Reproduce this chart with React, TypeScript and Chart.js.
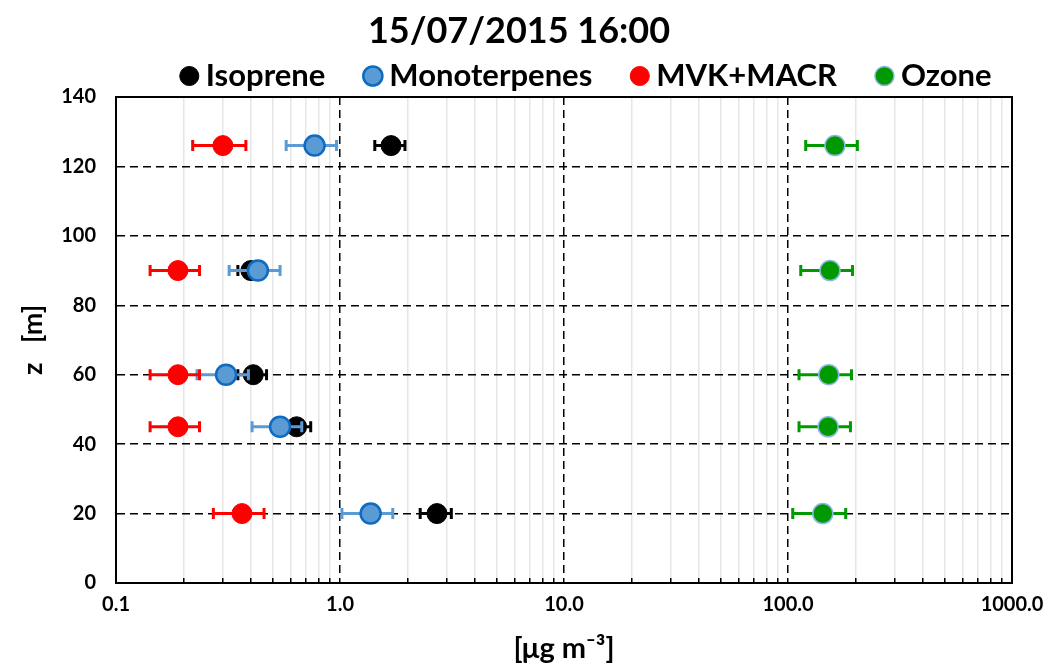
import React, { useEffect, useRef } from 'react';
import { Chart, registerables } from 'chart.js';

Chart.register(...registerables);

// Measurement heights (m)
const heights = [20, 45, 60, 90, 126];

// Concentrations (µg m-3) and their ± uncertainties at each height
const isoprene = [2.71, 0.64, 0.41, 0.4, 1.69];
const isopreneErr = [0.43, 0.1, 0.06, 0.05, 0.26];
const monoterpenes = [1.37, 0.54, 0.31, 0.43, 0.77];
const monoterpenesErr = [0.35, 0.135, 0.08, 0.11, 0.195];
const mvkMacr = [0.365, 0.189, 0.189, 0.189, 0.3];
const mvkMacrErr = [0.093, 0.047, 0.047, 0.047, 0.08];
const ozone = [143, 151, 152, 154, 162];
const ozoneErr = [38, 39, 40, 40, 42];

// Labelled decades on the logarithmic axis
const xTickValues = [0.1, 1, 10, 100, 1000];
const xTickLabels = ['0.1', '1.0', '10.0', '100.0', '1000.0'];
const yTicks = [0, 20, 40, 60, 80, 100, 120, 140];

const FONT = 'Lato, "DejaVu Sans", sans-serif';

// 1..9 × each decade, for the minor grid
const xGridValues: number[] = [];
for (let d = 0; d < xTickValues.length - 1; d++) {
  for (let m = 1; m <= 9; m++) {
    xGridValues.push(Number((m * xTickValues[d]).toPrecision(6)));
  }
}
xGridValues.push(xTickValues[xTickValues.length - 1]);

const isDecade = (v: number) => xTickValues.some((t) => Math.abs(t - v) < t * 1e-6);
const isEdge = (v: number) =>
  Math.abs(v - xTickValues[0]) < 1e-9 || Math.abs(v - xTickValues[xTickValues.length - 1]) < 1e-6;

const points = (xs: number[]) => xs.map((x, i) => ({ x, y: heights[i] }));

const useGridTicks = (scale: any) => {
  scale.ticks = xGridValues.map((value) => ({ value }));
};

// Horizontal error bars, drawn just beneath each series' markers
const errorBarsPlugin = {
  id: 'errorBars',
  beforeDatasetDraw(chart: any, args: any) {
    const ds = chart.data.datasets[args.index];
    const errs: number[] | undefined = ds.xErr;
    if (!errs) return;
    const xs = chart.scales.x;
    const ctx = chart.ctx;
    ctx.save();
    ctx.strokeStyle = ds.errorColor;
    ctx.lineWidth = 3;
    ctx.lineCap = 'butt';
    args.meta.data.forEach((pt: any, i: number) => {
      const v = ds.data[i].x;
      const x0 = xs.getPixelForValue(v - errs[i]);
      const x1 = xs.getPixelForValue(v + errs[i]);
      const y = pt.y;
      ctx.beginPath();
      ctx.moveTo(x0, y);
      ctx.lineTo(x1, y);
      ctx.moveTo(x0, y - 5.5);
      ctx.lineTo(x0, y + 5.5);
      ctx.moveTo(x1, y - 5.5);
      ctx.lineTo(x1, y + 5.5);
      ctx.stroke();
    });
    ctx.restore();
  },
};

// Solid frame around the plot area
const framePlugin = {
  id: 'frame',
  beforeDatasetsDraw(chart: any) {
    const { left, top, right, bottom } = chart.chartArea;
    const ctx = chart.ctx;
    ctx.save();
    ctx.strokeStyle = '#000';
    ctx.lineWidth = 2;
    ctx.strokeRect(left, top, right - left, bottom - top);
    ctx.restore();
  },
};

export default function App() {
  const canvasRef = useRef<HTMLCanvasElement | null>(null);

  useEffect(() => {
    if (!canvasRef.current) return;
    Chart.defaults.font.family = FONT;
    Chart.defaults.color = '#000';

    const chart = new Chart(canvasRef.current, {
      type: 'scatter',
      data: {
        datasets: [
          {
            label: 'Isoprene',
            data: points(isoprene),
            xErr: isopreneErr,
            errorColor: '#000000',
            backgroundColor: '#000000',
            borderColor: '#000000',
            borderWidth: 1,
            pointRadius: 10,
            order: 4,
          },
          {
            label: 'Monoterpenes',
            data: points(monoterpenes),
            xErr: monoterpenesErr,
            errorColor: '#5B9BD5',
            backgroundColor: '#5B9BD5',
            borderColor: '#0E6BBF',
            borderWidth: 2.5,
            pointRadius: 10,
            order: 3,
          },
          {
            label: 'MVK+MACR',
            data: points(mvkMacr),
            xErr: mvkMacrErr,
            errorColor: '#FF0000',
            backgroundColor: '#FF0000',
            borderColor: '#FF0000',
            borderWidth: 1,
            pointRadius: 10,
            order: 2,
          },
          {
            label: 'Ozone',
            data: points(ozone),
            xErr: ozoneErr,
            errorColor: '#009A00',
            backgroundColor: '#009A00',
            borderColor: '#8DB6E3',
            borderWidth: 1.5,
            pointRadius: 10,
            order: 1,
          },
        ] as any,
      },
      options: {
        animation: false,
        responsive: false,
        layout: { padding: { left: 0, right: 10, top: 0, bottom: 0 } },
        plugins: {
          title: {
            display: true,
            text: '15/07/2015 16:00',
            color: '#000',
            font: { size: 36, weight: 'bold' },
            padding: { top: 10, bottom: -39.2 },
          },
          legend: {
            position: 'top',
            align: 'end',
            maxHeight: 83,
            labels: {
              usePointStyle: true,
              pointStyle: 'circle',
              boxWidth: 2,
              boxHeight: 13.5,
              padding: 46.5,
              color: '#000',
              font: { size: 31, weight: 'bold' },
              sort: (a: any, b: any) => a.datasetIndex - b.datasetIndex,
            },
          },
          tooltip: { enabled: false },
        },
        scales: {
          x: {
            type: 'logarithmic',
            position: 'bottom',
            min: xTickValues[0],
            max: xTickValues[xTickValues.length - 1],
            afterBuildTicks: useGridTicks,
            afterFit: (s: any) => {
              s.height = 83;
              s.paddingRight = 36;
              s.paddingLeft = 0;
            },
            ticks: {
              autoSkip: false,
              maxRotation: 0,
              padding: 15,
              color: '#000',
              font: { size: 20, weight: 'bold' },
              callback: (value: any) => {
                const i = xTickValues.findIndex((t) => Math.abs(t - Number(value)) < t * 1e-6);
                return i >= 0 ? xTickLabels[i] : '';
              },
            },
            grid: {
              drawTicks: true,
              tickLength: -5,
              lineWidth: 1.5,
              tickWidth: 1.5,
              color: (c: any) => (c.tick && !isDecade(c.tick.value) ? '#E6E6E6' : 'rgba(0,0,0,0)'),
              tickColor: (c: any) => (c.tick && !isDecade(c.tick.value) ? '#000' : 'rgba(0,0,0,0)'),
            },
            border: { display: true, color: '#000', width: 2 },
            title: {
              display: true,
              text: '[μg m⁻³]',
              color: '#000',
              font: { size: 29, weight: 'bold' },
              padding: { top: 0, bottom: 0 },
            },
          },
          xMajor: {
            type: 'logarithmic',
            position: 'top',
            min: xTickValues[0],
            max: xTickValues[xTickValues.length - 1],
            afterBuildTicks: useGridTicks,
            afterFit: (s: any) => {
              s.height = 0;
              s.paddingRight = 0;
              s.paddingLeft = 0;
            },
            ticks: { display: false, autoSkip: false },
            grid: {
              drawTicks: false,
              lineWidth: 1.5,
              color: (c: any) =>
                c.tick && isDecade(c.tick.value) && !isEdge(c.tick.value) ? '#000' : 'rgba(0,0,0,0)',
            },
            border: { display: false, dash: [8, 5] },
          },
          y: {
            type: 'linear',
            min: yTicks[0],
            max: yTicks[yTicks.length - 1],
            afterBuildTicks: (s: any) => {
              s.ticks = yTicks.map((value) => ({ value }));
            },
            afterFit: (s: any) => {
              s.width = 116;
            },
            ticks: {
              padding: 20,
              color: '#000',
              font: { size: 20, weight: 'bold' },
            },
            grid: { drawTicks: false, lineWidth: 1.5, color: '#000' },
            border: { display: true, color: '#000', width: 2, dash: [8, 5] },
            title: {
              display: true,
              text: 'z   [m]',
              color: '#000',
              font: { size: 27, weight: 'bold' },
              padding: { top: 17, bottom: 0 },
            },
          },
        },
      } as any,
      plugins: [errorBarsPlugin, framePlugin],
    });

    return () => chart.destroy();
  }, []);

  return (
    <div style={{ position: 'fixed', left: 0, top: 0, width: 1048, height: 666, background: '#fff' }}>
      <canvas ref={canvasRef} width={1048} height={666} style={{ display: 'block' }} />
    </div>
  );
}
